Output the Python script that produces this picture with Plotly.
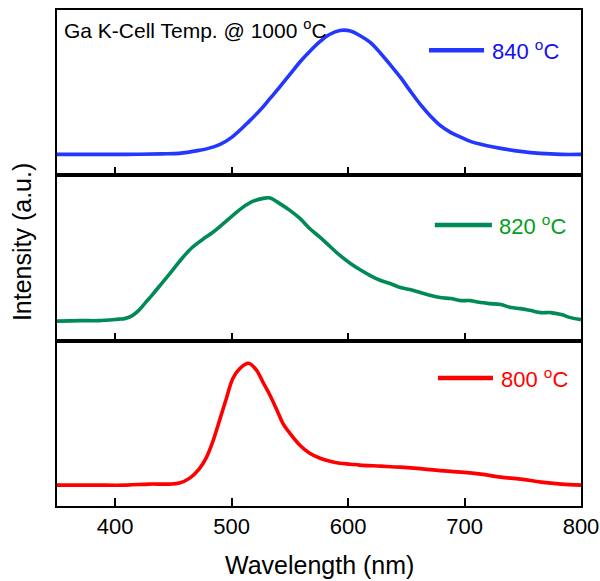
import plotly.graph_objects as go
from plotly.subplots import make_subplots

# PL spectra for three substrate temperatures (Ga K-cell at 1000 oC)
wl_840 = [350, 380, 410, 440, 455, 472, 480, 490, 500, 515, 525, 533, 541, 550,
          559, 567, 576, 584, 593, 602, 610, 619, 628, 636, 645, 653, 662, 671,
          679, 688, 697, 705, 714, 731, 748, 765, 783, 800]
int_840 = [21, 21, 21, 21.5, 22, 25, 27, 31, 38, 54, 66, 77, 88, 101,
           114, 124, 134, 141, 145, 144.5, 140, 133, 122, 111, 98, 85, 71, 59,
           50, 43, 38, 34, 31, 27, 24, 22, 21, 21]

wl_820 = [350, 370, 386, 403, 408, 414, 420, 426, 432, 440.5, 449, 458, 466,
          475, 483.6, 492, 501, 509.5, 518, 527, 533, 541, 550, 558.6, 567,
          576, 584.5, 593, 602, 610, 619, 628, 636, 645, 653, 662, 671, 679,
          688, 697, 705, 714, 722, 731, 740, 748, 757, 765.5, 774, 783, 791, 800]
int_820 = [19.5, 20, 20, 21.5, 22, 24.5, 30, 38, 46, 58, 70, 83, 93,
           101, 108, 116, 125, 133, 139, 142, 142.5, 137, 130, 122, 112,
           103, 94, 85, 77, 71, 65, 60, 57, 53, 51, 48, 45, 43,
           42, 40, 40, 38, 37, 36, 33, 32, 30, 28, 28, 26, 23, 21]

wl_800 = [350, 380, 410, 429, 446.5, 455, 464, 472, 478, 483.6, 489.6, 495.7,
          501, 507, 513, 515.5, 521.5, 527, 533, 539, 544, 550, 558.6, 567,
          576, 584.5, 593, 602, 610, 628, 645, 662, 679, 697, 714, 731, 748,
          765.5, 783, 800]
int_800 = [21, 21, 21, 22, 22, 23, 28, 37, 48, 64, 86, 109,
           128, 138, 143, 143, 136, 124, 111, 96, 83, 73, 61, 53,
           48, 45, 43, 42, 41, 40, 39, 37.5, 35.5, 34, 32, 29, 27,
           24, 22, 21]

labels = ["840 <sup>o</sup>C", "820 <sup>o</sup>C", "800 <sup>o</sup>C"]
line_colors = ["#2337ff", "#008a56", "#ff0000"]
text_colors = ["#1010ee", "#00a020", "#ff0000"]
x_ticks = [400, 500, 600, 700, 800]

FONT = "Liberation Sans, Arial, sans-serif"

fig = make_subplots(rows=3, cols=1, shared_xaxes=True, vertical_spacing=0)

series = [(wl_840, int_840), (wl_820, int_820), (wl_800, int_800)]
for i, (wl, val) in enumerate(series):
    fig.add_trace(
        go.Scatter(x=wl, y=val, mode="lines", line_shape="spline",
                   line=dict(color=line_colors[i], width=3.6),
                   showlegend=False, hoverinfo="skip"),
        row=i + 1, col=1)

y_ranges = [[0, 165.5], [0, 165], [0, 166]]
for i in range(3):
    fig.update_xaxes(row=i + 1, col=1, range=[350, 800], tickvals=x_ticks,
                     ticks="inside", ticklen=8, tickwidth=2, tickcolor="black",
                     showline=True, linewidth=2, linecolor="black", mirror=True,
                     showgrid=False, zeroline=False, automargin=False,
                     showticklabels=(i == 2),
                     tickfont=dict(family=FONT, size=22, color="black"))
    fig.update_yaxes(row=i + 1, col=1, range=y_ranges[i], showticklabels=False,
                     ticks="", showline=True, linewidth=2, linecolor="black",
                     mirror=True, showgrid=False, zeroline=False,
                     automargin=False)

# in-panel legend keys
key_pos = [  # (x0, x1, y, text_x) in paper units
    (0.710, 0.815, 0.919, 0.826),
    (0.721, 0.830, 0.5665, 0.840),
    (0.727, 0.832, 0.258, 0.844),
]
for i, (x0, x1, yk, xt) in enumerate(key_pos):
    fig.add_shape(type="line", xref="paper", yref="paper",
                  x0=x0, x1=x1, y0=yk, y1=yk,
                  line=dict(color=line_colors[i], width=4.5))
    fig.add_annotation(xref="paper", yref="paper", x=xt, y=yk,
                       xanchor="left", yanchor="middle", showarrow=False,
                       text=labels[i],
                       font=dict(family=FONT, size=22, color=text_colors[i]))

fig.add_annotation(xref="paper", yref="paper", x=0.0095, y=0.962,
                   xanchor="left", yanchor="middle", showarrow=False,
                   text="Ga K-Cell Temp. @ 1000 <sup>o</sup>C",
                   font=dict(family=FONT, size=21, color="black"))

fig.add_annotation(xref="paper", yref="paper", x=-0.0668, y=0.532,
                   xanchor="center", yanchor="middle", showarrow=False,
                   textangle=-90, text="Intensity (a.u.)",
                   font=dict(family=FONT, size=25, color="black"))

fig.add_annotation(xref="paper", yref="paper", x=0.501, y=-0.119,
                   xanchor="center", yanchor="middle", showarrow=False,
                   text="Wavelength (nm)",
                   font=dict(family=FONT, size=25, color="black"))

fig.update_layout(width=600, height=581,
                  margin=dict(l=57, r=19, t=10, b=75),
                  plot_bgcolor="white", paper_bgcolor="white",
                  font=dict(family=FONT))

fig.write_html("out.html")
